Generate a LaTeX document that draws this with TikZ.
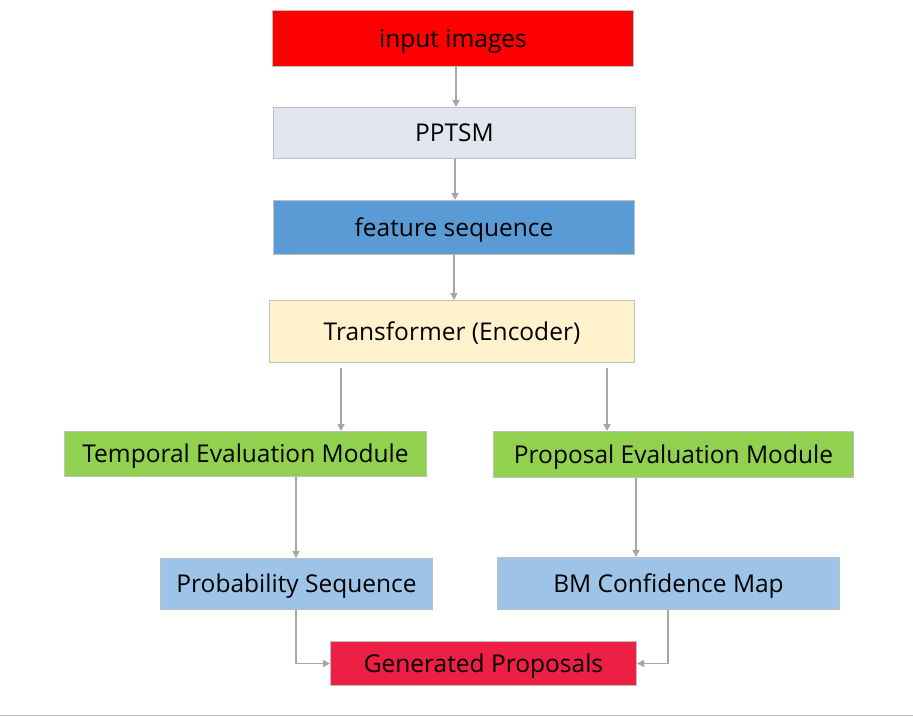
\documentclass[tikz,border=0pt]{standalone}
\usepackage{fontspec}
\setmainfont{Open Sans}
\usetikzlibrary{arrows.meta}
\definecolor{edge}{HTML}{A6A6A6}
\definecolor{cred}{HTML}{FF0000}
\definecolor{cgrey}{HTML}{E1E6EE}
\definecolor{cblue}{HTML}{5B9BD5}
\definecolor{cyellow}{HTML}{FFF2CC}
\definecolor{cgreen}{HTML}{92D050}
\definecolor{clblue}{HTML}{9DC3E6}
\definecolor{ccrimson}{HTML}{EE1F45}
\definecolor{cborder}{HTML}{BFBFBF}
\tikzset{
  box/.style={draw=cborder, line width=1pt, inner sep=0pt, anchor=north west,
    font=\fontsize{24.5}{28}\selectfont, text=black, text height=20.5pt, text depth=3pt},
  conn/.style={draw=edge, line width=1.6pt, -{Triangle[length=7pt,width=7pt]}},
}
\begin{document}
\begin{tikzpicture}[x=1pt,y=-1pt]
\useasboundingbox (0,0) rectangle (913,717);
\fill[white] (0,0) rectangle (913,717);
\node[box, fill=cred, minimum width=361pt, minimum height=56pt] (inp) at (272,10) {input images};
\node[box, fill=cgrey, minimum width=362pt, minimum height=51pt] (ppt) at (273,107) {PPTSM};
\node[box, fill=cblue, minimum width=361pt, minimum height=54pt] (feat) at (273,200) {feature sequence};
\node[box, fill=cyellow, minimum width=365pt, minimum height=62pt] (tr) at (269,300) {Transformer (Encoder)};
\node[box, fill=cgreen, minimum width=362pt, minimum height=45pt] (tem) at (64,431) {Temporal Evaluation Module};
\node[box, fill=cgreen, minimum width=360pt, minimum height=46pt] (pem) at (493,431) {Proposal Evaluation Module};
\node[box, fill=clblue, minimum width=272pt, minimum height=51pt] (prob) at (160,558) {Probability Sequence};
\node[box, fill=clblue, minimum width=342pt, minimum height=52pt] (bm) at (497,557) {BM Confidence Map};
\node[box, fill=ccrimson, minimum width=306pt, minimum height=44pt] (gen) at (330,641) {Generated Proposals};
\coordinate (tl) at (341,368);
\coordinate (tr2) at (607,368);
\coordinate (bl) at (0,715);
\coordinate (br) at (913,715);
\draw[conn] (inp.south -| 456,0) -- (ppt.north -| 456,0);
\draw[conn] (ppt.south -| 455,0) -- (feat.north -| 455,0);
\draw[conn] (feat.south -| 454,0) -- (tr.north -| 454,0);
\draw[conn] (tl) -- (tem.north -| tl);
\draw[conn] (tr2) -- (pem.north -| tr2);
\draw[conn] (tem.south -| 296,0) -- (prob.north -| 296,0);
\draw[conn] (pem.south -| 636,0) -- (bm.north -| 636,0);
\draw[conn] (prob.south -| 296,0) |- (gen.west);
\draw[conn] (bm.south -| 668,0) |- (gen.east);
\draw[draw=cborder, line width=1pt] (bl) -- (br);
\end{tikzpicture}
\end{document}
